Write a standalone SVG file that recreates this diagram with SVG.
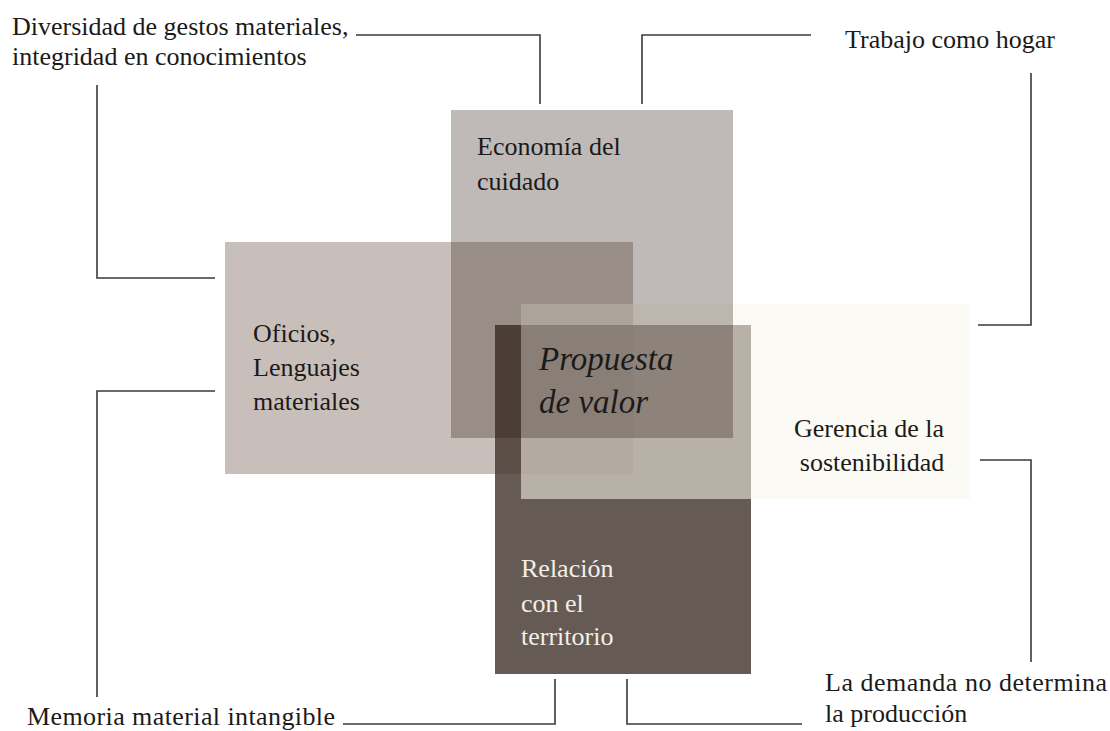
<svg xmlns="http://www.w3.org/2000/svg" width="1110" height="731" viewBox="0 0 1110 731">
<style>
.t{font-family:"Liberation Serif","Times New Roman",serif;font-size:26px;fill:#1c1a19}
.w{fill:#f3eee8}
.it{font-style:italic;font-size:33px}
.c{fill:none;stroke:#3a3a3a;stroke-width:1.6}
</style>
<rect width="1110" height="731" fill="#ffffff"/>
<g id="oficios">
<rect x="225" y="242" width="408" height="232" fill="#c9bfba"/>
</g>
<g id="relacion">
<rect x="495" y="325" width="256" height="349" fill="#403229" fill-opacity="0.8"/>
</g>
<g id="gerencia">
<rect x="521" y="304" width="449" height="195" fill="#faf6ec" fill-opacity="0.556"/>
</g>
<g id="economia">
<rect x="451" y="110" width="282" height="328" fill="#2a1a10" fill-opacity="0.3"/>
</g>
<g id="labels-inside">
<text class="t" x="477" y="155">Economía del</text>
<text class="t" x="477" y="190">cuidado</text>
<text class="t" x="253" y="342">Oficios,</text>
<text class="t" x="253" y="376">Lenguajes</text>
<text class="t" x="253" y="410">materiales</text>
<text class="t it" x="539" y="370">Propuesta</text>
<text class="t it" x="539" y="413">de valor</text>
<text class="t" x="869" y="437" text-anchor="middle">Gerencia de la</text>
<text class="t" x="872" y="471" text-anchor="middle">sostenibilidad</text>
<text class="t w" x="521" y="577">Relación</text>
<text class="t w" x="521" y="612">con el</text>
<text class="t w" x="521" y="645">territorio</text>
</g>
<g id="label-diversidad">
<text class="t" x="12" y="35">Diversidad de gestos materiales,</text>
<text class="t" x="12" y="65">integridad en conocimientos</text>
</g>
<g id="label-trabajo">
<text class="t" x="845" y="48">Trabajo como hogar</text>
</g>
<g id="label-demanda">
<text class="t" x="825" y="691" textLength="282" lengthAdjust="spacing">La demanda no determina</text>
<text class="t" x="825" y="722">la producción</text>
</g>
<g id="label-memoria">
<text class="t" x="27" y="725" textLength="308" lengthAdjust="spacing">Memoria material intangible</text>
</g>
<g id="connectors">
<path class="c" d="M356 35 H540 V104"/>
<path class="c" d="M97 85 V278 H215"/>
<path class="c" d="M811 35 H642 V104"/>
<path class="c" d="M1031 73 V325 H978"/>
<path class="c" d="M980 460 H1031 V662"/>
<path class="c" d="M215 391 H97 V697"/>
<path class="c" d="M343 724 H555 V679"/>
<path class="c" d="M627 679 V724 H802"/>
</g>
</svg>
